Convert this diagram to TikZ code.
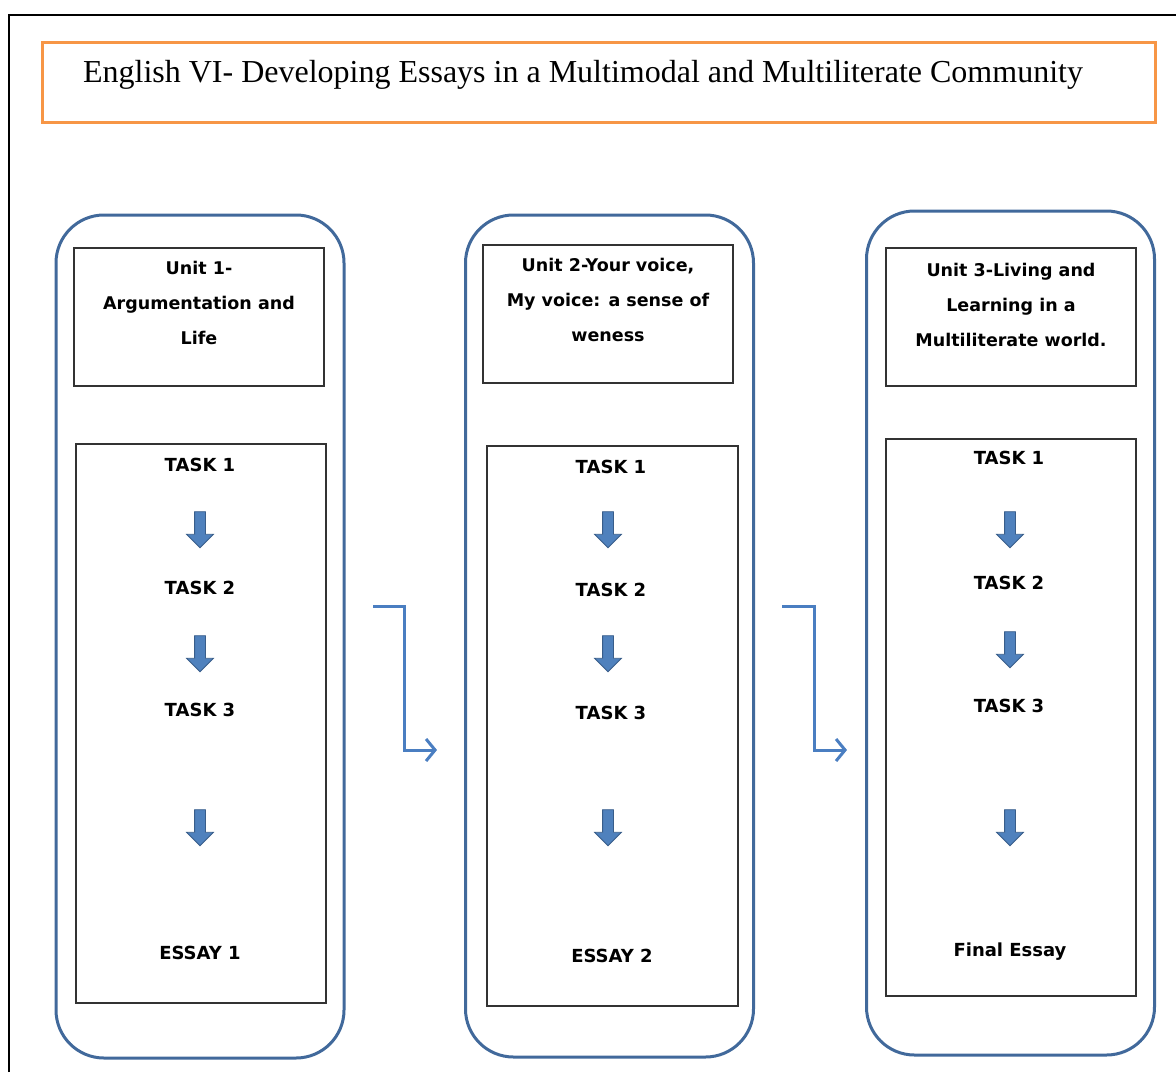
\documentclass[tikz,border=0pt]{standalone}
\usepackage{fontspec}
\setmainfont{Liberation Serif}
\setsansfont{DejaVu Sans}
\usetikzlibrary{shapes.arrows,arrows.meta}
\definecolor{titleorange}{RGB}{247,150,70}
\definecolor{unitblue}{RGB}{65,105,155}
\definecolor{linkblue}{RGB}{74,126,193}
\definecolor{arrowfill}{RGB}{79,129,189}
\definecolor{arrowline}{RGB}{56,93,138}

\begin{document}
\begin{tikzpicture}[x=1pt,y=-1pt,
	unit/.style={draw=unitblue, line width=3pt, rounded corners=48pt, minimum width=288pt, inner sep=0pt},
	box/.style={draw=black!80, line width=1.5pt, minimum width=250pt, inner sep=0pt},
	head/.style={font=\sffamily\bfseries\fontsize{17.5}{35}\selectfont, align=center},
	lbl/.style={font=\sffamily\bfseries\fontsize{18}{24}\selectfont, text height=13pt, text depth=0pt, inner sep=0pt},
	down/.style={single arrow, rotate=-90, fill=arrowfill, draw=arrowline, line width=0.8pt,
		inner xsep=0pt, inner ysep=5pt, single arrow head extend=8pt, minimum height=36pt},
	link/.style={draw=linkblue, line width=3pt, -{Straight Barb[length=9pt,width=22pt,line width=3pt]}}]
	\useasboundingbox (0,0) rectangle (1176,1072);
	\coordinate (f0) at (9,1072);
	\coordinate (f1) at (9,15);
	\coordinate (f2) at (1176,15);
	\draw[line width=2.5pt] (f0) -- (f1) -- (f2);

	\node[draw=titleorange, line width=3pt, minimum width=1113pt, minimum height=80pt] (title) at (598.5,82) {};
	\node[font=\fontsize{32}{38}\selectfont] (ttl) at (583,75) {English VI- Developing Essays in a Multimodal and Multiliterate Community};

	\node[unit, minimum height=843pt] (u1) at (200,636.5) {};
	\node[unit, minimum height=842pt] (u2) at (609.5,636) {};
	\node[unit, minimum height=844pt] (u3) at (1010.5,633) {};

	\node[box, minimum height=138pt] (h1) at (199,317) {};
	\node[box, minimum height=138pt] (h2) at (608,314) {};
	\node[box, minimum height=138pt] (h3) at (1011,317) {};
	\node[head] (l1) at (199,303) {Unit 1-\\Argumentation and\\Life};
	\node[head] (l2) at (608,300) {Unit 2-Your voice,\\My voice: a sense of\\weness};
	\node[head] (l3) at (1011,305) {Unit 3-Living and\\Learning in a\\Multiliterate world.};

	\node[box, minimum height=559pt] (t1) at (201,723.5) {};
	\node[box, minimum width=251pt, minimum height=560pt] (t2) at (612.5,726) {};
	\node[box, minimum height=557pt] (t3) at (1011,717.5) {};

	\node[lbl] (k11) at (200,465) {TASK 1};
	\node[down] (a11) at (200,527) {};
	\node[lbl] (k12) at (200,588) {TASK 2};
	\node[down] (a12) at (200,651) {};
	\node[lbl] (k13) at (200,710) {TASK 3};
	\node[down] (a13) at (200,825) {};
	\node[lbl] (e1) at (200,953) {ESSAY 1};

	\node[lbl] (k21) at (611,467) {TASK 1};
	\node[down] (a21) at (608,527) {};
	\node[lbl] (k22) at (611,590) {TASK 2};
	\node[down] (a22) at (608,651) {};
	\node[lbl] (k23) at (611,713) {TASK 3};
	\node[down] (a23) at (608,825) {};
	\node[lbl] (e2) at (612,956) {ESSAY 2};

	\node[lbl] (k31) at (1009,458) {TASK 1};
	\node[down] (a31) at (1010,527) {};
	\node[lbl] (k32) at (1009,583) {TASK 2};
	\node[down] (a32) at (1010,647) {};
	\node[lbl] (k33) at (1009,706) {TASK 3};
	\node[down] (a33) at (1010,825) {};
	\node[lbl] (e3) at (1010,950) {Final Essay};

	\coordinate (c1) at (373,606);
	\coordinate (c1b) at (404,750);
	\coordinate (c1e) at (437,750);
	\draw[link] (c1) -| (c1b) -- (c1e);
	\coordinate (c2) at (782,606);
	\coordinate (c2b) at (814,750);
	\coordinate (c2e) at (847,750);
	\draw[link] (c2) -| (c2b) -- (c2e);
\end{tikzpicture}
\end{document}
